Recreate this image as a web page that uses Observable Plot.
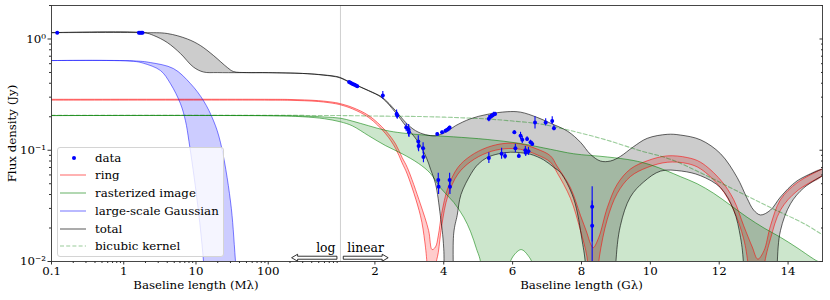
<!DOCTYPE html>
<html>
<head>
<meta charset="utf-8">
<script src="https://cdn.jsdelivr.net/npm/d3@7"></script>
<script src="https://cdn.jsdelivr.net/npm/@observablehq/plot@0.6"></script>
<style>
  html, body { margin: 0; padding: 0; background: #fff; }
  #wrap { position: relative; width: 830px; height: 300px; }
  #wrap > svg { position: absolute; left: 0; top: 0; display: block; }
  #legend { position: absolute; left: 57px; top: 147px; width: 167px; height: 110px; box-sizing: border-box;
    background: rgba(255,255,255,0.8); border: 1px solid #d4d4d4; border-radius: 3px; }
  .row { position: absolute; left: 0; width: 100%; height: 16px; }
  .row svg { position: absolute; left: 2px; top: 3px; }
  .row span { position: absolute; left: 37px; top: 0; line-height: 16px; color: #000; white-space: nowrap; }
</style>
</head>
<body>
<div id="wrap"><div id="legend"></div></div>
<script>
// ---------- data (x in Gλ, y in Jy) ----------
const totalUpper = [[0.0001,1.14],[0.0019,1.14],[0.004,1.12],[0.0076,1.0],[0.0115,0.874],[0.0175,0.71],[0.0273,0.553],[0.033,0.51],[0.05,0.499],[0.1,0.498],[0.3,0.49],[0.5,0.48],[0.853,0.462],[1.0,0.45],[1.34,0.40],[1.82,0.344],[2.21,0.299],[2.6,0.227],[2.89,0.178],[3.18,0.15],[3.47,0.138],[3.76,0.135],[4.05,0.145],[4.34,0.166],[4.78,0.192],[5.26,0.21],[5.84,0.222],[6.23,0.22],[6.71,0.1975],[7.1,0.175],[7.6,0.148],[7.97,0.118],[8.26,0.092],[8.55,0.08],[8.84,0.08],[9.13,0.088],[9.5,0.107],[9.91,0.128],[10.49,0.139],[10.87,0.137],[11.46,0.124],[12.04,0.093],[12.52,0.057],[12.81,0.037],[13.0,0.029],[13.2,0.0262],[13.49,0.029],[13.78,0.038],[14.26,0.053],[15,0.068]];
const totalLower = [[0.0001,1.14],[0.0019,1.14],[0.0026,1.075],[0.004,0.93],[0.0061,0.74],[0.0092,0.56],[0.0127,0.505],[0.02,0.499],[0.1,0.498],[0.3,0.49],[0.5,0.478],[0.853,0.458],[1.0,0.445],[1.34,0.398],[1.82,0.342],[2.21,0.295],[2.6,0.218],[2.89,0.166],[3.26,0.118],[3.5,0.085],[3.62,0.067],[3.76,0.05],[3.9,0.026],[4.0,0.013],[4.05,0.001],[4.2,0.001],[4.29,0.018],[4.39,0.026],[4.5,0.04],[4.8,0.062],[5.0,0.075],[5.26,0.086],[5.6,0.093],[5.94,0.096],[6.23,0.095],[6.52,0.092],[6.9,0.082],[7.2,0.07],[7.39,0.063],[7.77,0.037],[8.02,0.0153],[8.12,0.009],[8.18,0.001],[8.92,0.001],[8.99,0.009],[9.13,0.021],[9.42,0.038],[9.81,0.052],[10.3,0.065],[10.9,0.065],[11.46,0.059],[12.04,0.046],[12.42,0.029],[12.62,0.0164],[12.71,0.009],[12.76,0.001],[13.62,0.001],[13.68,0.009],[13.78,0.019],[14.07,0.033],[14.46,0.046],[15,0.059]];

const ringUpper = [[0.0001,0.287],[0.1,0.287],[0.2,0.286],[0.5,0.279],[0.853,0.268],[1.0,0.262],[1.34,0.243],[1.82,0.205],[2.31,0.15],[2.6,0.114],[2.79,0.086],[2.94,0.07],[3.32,0.033],[3.56,0.019],[3.66,0.0128],[3.76,0.0135],[3.84,0.017],[3.94,0.027],[4.12,0.046],[4.41,0.07],[4.78,0.089],[5.26,0.106],[5.75,0.115],[6.23,0.114],[6.71,0.1025],[7.1,0.089],[7.29,0.072],[7.68,0.046],[7.97,0.026],[8.16,0.018],[8.26,0.0145],[8.34,0.0133],[8.5,0.0164],[8.75,0.0305],[9.04,0.0496],[9.42,0.0677],[9.91,0.0804],[10.49,0.089],[11.07,0.086],[11.46,0.078],[12.04,0.054],[12.42,0.036],[12.71,0.021],[12.96,0.0135],[13.12,0.0105],[13.3,0.0125],[13.49,0.021],[13.78,0.036],[14.26,0.051],[15,0.068]];
const ringLower = [[0.0001,0.282],[0.1,0.282],[0.2,0.281],[0.5,0.274],[0.853,0.262],[1.0,0.256],[1.34,0.236],[1.82,0.197],[2.31,0.141],[2.6,0.104],[2.79,0.077],[2.94,0.061],[3.32,0.026],[3.45,0.015],[3.52,0.009],[3.64,0.002],[3.76,0.009],[3.84,0.012],[3.94,0.021],[4.12,0.039],[4.41,0.061],[4.78,0.079],[5.26,0.095],[5.75,0.103],[6.23,0.102],[6.71,0.091],[7.1,0.078],[7.29,0.063],[7.68,0.037],[7.97,0.019],[8.16,0.011],[8.24,0.006],[8.34,0.002],[8.44,0.006],[8.52,0.011],[8.75,0.024],[9.04,0.041],[9.42,0.058],[9.91,0.07],[10.49,0.078],[11.07,0.076],[11.46,0.068],[12.04,0.046],[12.42,0.029],[12.71,0.016],[12.85,0.009],[13.1,0.002],[13.3,0.009],[13.49,0.016],[13.78,0.029],[14.26,0.043],[15,0.059]];

const imageUpper = [[0.0001,0.205],[0.1,0.205],[0.3,0.203],[0.6,0.199],[1.0,0.194],[1.34,0.183],[1.82,0.166],[2.31,0.151],[2.79,0.143],[3.56,0.136],[4.28,0.132],[5.26,0.125],[6.23,0.115],[7.1,0.102],[7.77,0.093],[8.75,0.087],[9.5,0.081],[10.0,0.074],[10.49,0.065],[10.87,0.058],[11.36,0.05],[11.84,0.041],[12.33,0.032],[12.81,0.025],[13.3,0.02],[13.78,0.0165],[14.26,0.0133],[14.75,0.0105],[15,0.0095]];
const imageLower = [[0.0001,0.205],[0.1,0.204],[0.3,0.2],[0.6,0.192],[1.0,0.18],[1.34,0.166],[1.82,0.135],[2.31,0.11],[2.79,0.093],[3.27,0.076],[3.61,0.062],[3.9,0.046],[4.29,0.034],[4.58,0.025],[4.78,0.0185],[4.95,0.013],[5.07,0.0098],[5.2,0.001],[5.8,0.001],[5.9,0.009],[6.02,0.0112],[6.25,0.0128],[6.45,0.0113],[6.6,0.009],[6.7,0.001],[15,0.001]];

const gaussUpper = [[0.0001,0.64],[0.00136,0.636],[0.00234,0.614],[0.00488,0.542],[0.0084,0.397],[0.0127,0.279],[0.0175,0.184],[0.0218,0.118],[0.03,0.035],[0.0352,0.0101],[0.045,0.001]];
const gaussLower = [[0.0001,0.64],[0.00136,0.63],[0.00188,0.605],[0.00323,0.52],[0.00443,0.397],[0.0061,0.262],[0.00715,0.184],[0.008,0.12],[0.0104,0.035],[0.0127,0.0101],[0.016,0.001]];

const kernel = [[0.0001,0.206],[1.0,0.205],[2.0,0.203],[3.3,0.201],[4.3,0.197],[5.26,0.191],[6.0,0.183],[6.81,0.172],[7.77,0.148],[8.75,0.123],[9.71,0.099],[10.58,0.083],[11.54,0.061],[12.52,0.043],[13.49,0.0305],[14.45,0.022],[15,0.0174]];

// data points: [Gλ, flux, lower, upper]
const points = [
  [0.00012,1.14,1.125,1.155],
  [0.00162,1.135,1.12,1.15],[0.00168,1.14,1.125,1.155],[0.00175,1.135,1.12,1.15],[0.00182,1.14,1.125,1.155],
  [1.25,0.41,0.405,0.415],[1.29,0.404,0.399,0.409],[1.33,0.398,0.393,0.403],[1.37,0.392,0.387,0.397],[1.41,0.387,0.382,0.392],[1.45,0.381,0.376,0.386],[1.49,0.376,0.371,0.381],
  [2.23,0.31,0.287,0.338],
  [2.63,0.212,0.195,0.23],[2.65,0.205,0.19,0.22],
  [2.91,0.16,0.147,0.172],[2.98,0.153,0.133,0.17],[2.99,0.145,0.13,0.16],
  [3.26,0.12,0.1,0.135],[3.27,0.109,0.097,0.12],
  [3.4,0.104,0.093,0.117],[3.41,0.087,0.077,0.096],
  [3.81,0.14,0.136,0.144],[3.95,0.145,0.141,0.149],[4.05,0.15,0.146,0.154],[4.1,0.153,0.149,0.157],[4.14,0.156,0.152,0.16],[4.17,0.16,0.156,0.164],
  [3.84,0.054,0.046,0.062],[3.85,0.047,0.04,0.053],
  [4.17,0.054,0.045,0.062],[4.18,0.047,0.04,0.055],
  [5.31,0.192,0.18,0.205],[5.36,0.2,0.19,0.21],[5.41,0.205,0.195,0.215],[5.45,0.21,0.2,0.22],[5.49,0.212,0.205,0.22],
  [6.65,0.178,0.155,0.2],[6.96,0.178,0.165,0.192],[7.15,0.183,0.17,0.2],[7.2,0.158,0.15,0.167],
  [5.31,0.085,0.076,0.095],[5.68,0.093,0.083,0.104],[5.78,0.089,0.083,0.095],
  [6.05,0.145,0.14,0.15],[6.08,0.104,0.095,0.113],[6.18,0.089,0.085,0.093],[6.23,0.135,0.125,0.145],[6.28,0.124,0.115,0.133],
  [6.37,0.1,0.093,0.108],[6.38,0.095,0.088,0.102],[6.42,0.126,0.12,0.132],[6.46,0.098,0.09,0.106],[6.52,0.118,0.113,0.123],[6.57,0.114,0.109,0.119],
  [8.31,0.031,0.015,0.047],[8.31,0.021,0.005,0.035]
];

// ticks and labels
const xTicksLogG = [0.0001, 0.001, 0.01, 0.1];
const xTickLabelsLog = ["0.1", "1", "10", "100"];
const xTicksLin = [2, 4, 6, 8, 10, 12, 14];
const xTickLabelsLin = ["2", "4", "6", "8", "10", "12", "14"];
const yTicks = [0.01, 0.1, 1];
const yTickLabels = ["10\u207B\u00B2", "10\u207B\u00B9", "10\u2070"];
const xTitles = [{at: 0.01, label: "Baseline length (M\u03BB)"}, {at: 8, label: "Baseline length (G\u03BB)"}];
const legendLabels = ["data", "ring", "rasterized image", "large-scale Gaussian", "total", "bicubic kernel"];

// ---------- font: pick an installed serif face, size it close to the reference text width ----------
function fontAvailable(name) {
  const c = document.createElement("canvas").getContext("2d");
  const s = "Baseline length (M\u03BB) 0123456789 abcdefghij";
  for (const base of ["monospace", "sans-serif"]) {
    c.font = `40px ${base}`; const a = c.measureText(s).width;
    c.font = `40px "${name}", ${base}`; const b = c.measureText(s).width;
    if (Math.abs(a - b) > 0.5) return true;
  }
  return false;
}
const FONT = ["DejaVu Serif", "Liberation Serif", "Noto Serif", "Times New Roman"].find(fontAvailable) || "serif";
const FONT_CSS = FONT === "serif" ? "serif" : `"${FONT}", serif`;
const FS = (() => {
  const c = document.createElement("canvas").getContext("2d");
  c.font = `100px ${FONT_CSS}`;
  const w = c.measureText(xTitles[0].label).width;
  return Math.min(12, Math.round(125 * 100 / w * 10) / 10);
})();

// ---------- composite x coordinate: log (Mλ) left of 1 Gλ, linear (Gλ) right ----------
const LIN_SCALE = 0.4766; // axis width of 1 Gλ, in decades
const U = g => g < 1 ? Math.log10(g) + 4 : 4 + (g - 1) * LIN_SCALE;

const minorLog = [];
for (const d of xTicksLogG) for (let k = 2; k <= 9; k++) minorLog.push(U(d * k));
const minorY = [];
for (const d of yTicks) for (let k = 2; k <= 9; k++) if (d * k <= 2.0001) minorY.push(d * k);

const xMajor = [...xTicksLogG.map(U), ...xTicksLin.map(U)];
const xLabelMap = new Map(xMajor.map((u, i) => [u, [...xTickLabelsLog, ...xTickLabelsLin][i]]));
const yLabelMap = new Map(yTicks.map((v, i) => [v, yTickLabels[i]]));

const C = {ring: "#ff0000", image: "#008000", gauss: "#0000ff", total: "#000000", data: "#0000ff"};

const fx = d => U(d[0]), fy = d => d[1];
const band = (up, lo) => [...up, ...lo.slice().reverse()];
const fillMark = (up, lo, color, op) => Plot.line(band(up, lo), {x: fx, y: fy, fill: color, fillOpacity: op, stroke: "none", curve: "catmull-rom", clip: true});
const lineMark = (arr, color, op, extra = {}) => Plot.line(arr, {x: fx, y: fy, stroke: color, strokeOpacity: op, strokeWidth: 1, curve: "catmull-rom", clip: true, ...extra});

const arrows = [[0.908, 0.214, 0.0107], [1.096, 2.40, 0.0107]];
function hollowArrows(index, scales) {
  if (!scales || typeof scales.x !== "function") return null;
  const g = d3.create("svg:g");
  for (const a of arrows) {
    const x0 = scales.x(U(a[0])), x1 = scales.x(U(a[1])), y = scales.y(a[2]);
    const dir = Math.sign(x1 - x0), hl = 6, hw = 3.5, sw = 1.5;
    const xh = x1 - dir * hl;
    g.append("path")
      .attr("d", `M${x0},${y - sw}L${xh},${y - sw}L${xh},${y - hw}L${x1},${y}L${xh},${y + hw}L${xh},${y + sw}L${x0},${y + sw}Z`)
      .attr("fill", "white").attr("stroke", "black").attr("stroke-width", 0.8);
  }
  return g.node();
}

const chart = Plot.plot({
  width: 830, height: 300,
  marginLeft: 51, marginRight: 8, marginTop: 5, marginBottom: 39,
  x: {type: "linear", domain: [0, U(15)], axis: null},
  y: {type: "log", domain: [0.01, 2], axis: null},
  style: {fontFamily: FONT_CSS, fontSize: FS + "px", background: "transparent", color: "black"},
  marks: [
    Plot.ruleX([1], {x: U, stroke: "#c4c4c4", strokeWidth: 0.8}),
    fillMark(ringUpper, ringLower, C.ring, 0.2),
    fillMark(imageUpper, imageLower, C.image, 0.2),
    fillMark(gaussUpper, gaussLower, C.gauss, 0.2),
    fillMark(totalUpper, totalLower, C.total, 0.2),
    lineMark(ringUpper, C.ring, 0.55), lineMark(ringLower, C.ring, 0.55),
    lineMark(imageUpper, C.image, 0.55), lineMark(imageLower, C.image, 0.55),
    lineMark(gaussUpper, C.gauss, 0.5), lineMark(gaussLower, C.gauss, 0.5),
    lineMark(totalUpper, C.total, 0.6), lineMark(totalLower, C.total, 0.6),
    lineMark(kernel, C.image, 0.4, {strokeDasharray: "4,2.2", strokeWidth: 1.1}),
    Plot.ruleX(points, {x: fx, y1: d => d[2], y2: d => d[3], stroke: C.data, strokeWidth: 1.1, clip: true}),
    Plot.dot(points, {x: fx, y: fy, r: 2, fill: C.data, stroke: "none", clip: true}),
    Plot.text(["log"], {x: U(0.853), y: 0.0132, textAnchor: "end", fontSize: FS * 1.05}),
    Plot.text(["linear"], {x: U(1.2), y: 0.0132, textAnchor: "start", fontSize: FS * 1.05}),
    hollowArrows,
    Plot.frame({stroke: "#333", strokeWidth: 0.9}),
    Plot.axisX(xMajor, {tickSize: 3.5, tickPadding: 1.5, tickFormat: d => xLabelMap.get(d), label: null, stroke: "#333"}),
    Plot.axisX(minorLog, {tickSize: 2, tickFormat: () => "", label: null, stroke: "#333"}),
    Plot.axisY(yTicks, {anchor: "left", tickSize: 3.5, tickPadding: 2, tickFormat: d => yLabelMap.get(d), label: null, stroke: "#333"}),
    Plot.axisY(minorY, {anchor: "left", tickSize: 2, tickFormat: () => "", label: null, stroke: "#333"}),
    Plot.axisY(yTicks, {anchor: "right", tickSize: -3.5, tickFormat: () => "", label: null, stroke: "#333"}),
    Plot.axisY(minorY, {anchor: "right", tickSize: -2, tickFormat: () => "", label: null, stroke: "#333"}),
    Plot.text(xTitles, {x: d => U(d.at), text: d => d.label, frameAnchor: "bottom", dy: 27}),
    Plot.text(["Flux density (Jy)"], {frameAnchor: "left", rotate: -90, dx: -39, textAnchor: "middle"})
  ]
});

const wrap = document.getElementById("wrap");
const legend = document.getElementById("legend");
wrap.insertBefore(chart, legend);

// legend
const legendSwatches = [
  {kind: "dot", color: C.data},
  {kind: "line", color: C.ring, op: 0.55},
  {kind: "line", color: C.image, op: 0.55},
  {kind: "line", color: C.gauss, op: 0.5},
  {kind: "line", color: C.total, op: 0.6},
  {kind: "dash", color: C.image, op: 0.4}
];
legend.style.fontFamily = FONT_CSS;
legend.style.fontSize = FS + "px";
legendLabels.forEach((label, i) => {
  const row = document.createElement("div");
  row.className = "row";
  row.style.top = (1.7 + i * 17.7) + "px";
  const s = legendSwatches[i];
  let sw;
  if (s.kind === "dot") sw = `<circle cx="14" cy="5" r="2" fill="${s.color}"/>`;
  else sw = `<line x1="0" y1="5" x2="26" y2="5" stroke="${s.color}" stroke-opacity="${s.op}" stroke-width="1.1"${s.kind === "dash" ? ' stroke-dasharray="4,2.2"' : ""}/>`;
  row.innerHTML = `<svg width="28" height="10">${sw}</svg><span></span>`;
  row.querySelector("span").textContent = label;
  legend.appendChild(row);
});
</script>
</body>
</html>
